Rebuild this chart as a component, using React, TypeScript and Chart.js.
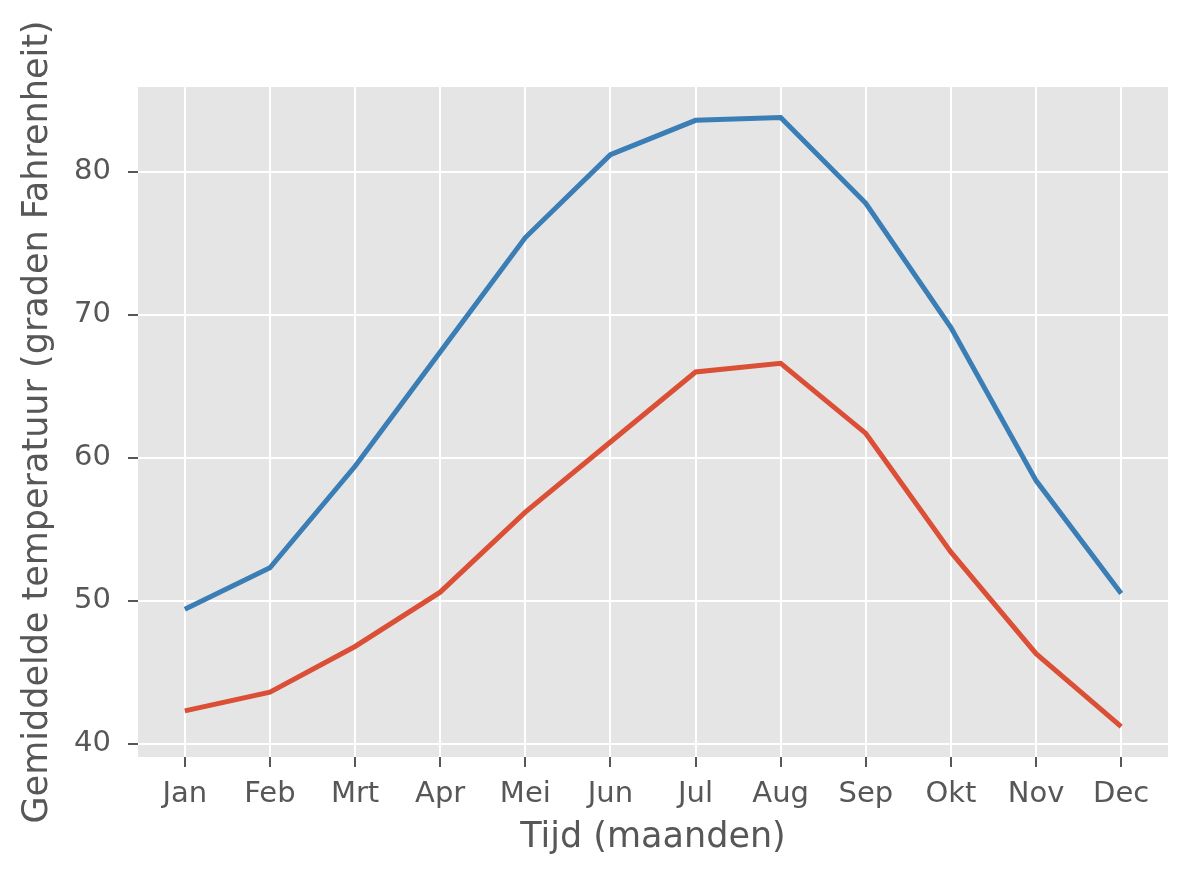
import React, { useEffect, useRef } from "react";
import { Chart, registerables } from "chart.js";

Chart.register(...registerables);

const months = ["Jan", "Feb", "Mrt", "Apr", "Mei", "Jun", "Jul", "Aug", "Sep", "Okt", "Nov", "Dec"];
const maxTemps = [49.4, 52.3, 59.4, 67.4, 75.4, 81.2, 83.6, 83.8, 77.8, 69.1, 58.4, 50.5];
const minTemps = [42.3, 43.6, 46.8, 50.6, 56.2, 61.1, 66.0, 66.6, 61.7, 53.4, 46.3, 41.2];
const yTicks = [40, 50, 60, 70, 80];
const xTitle = "Tijd (maanden)";
const yTitle = "Gemiddelde temperatuur (graden Fahrenheit)";

const FONT = "'DejaVu Sans', sans-serif";
const TEXT = "#575757";

const bgPlugin = {
  id: "bgPlugin",
  beforeDraw(chart: any) {
    const { ctx, chartArea } = chart;
    ctx.save();
    ctx.fillStyle = "#ffffff";
    ctx.fillRect(0, 0, chart.width, chart.height);
    ctx.fillStyle = "#E5E5E5";
    ctx.fillRect(chartArea.left, chartArea.top, chartArea.right - chartArea.left, chartArea.bottom - chartArea.top);
    ctx.restore();
  },
};

export default function App() {
  const ref = useRef<HTMLCanvasElement | null>(null);
  useEffect(() => {
    if (!ref.current) return;
    const allVals = [...maxTemps, ...minTemps];
    const lo = Math.min(...allVals);
    const hi = Math.max(...allVals);
    const m = (hi - lo) * 0.05;
    const xm = (months.length - 1) * 0.05;
    const chart = new Chart(ref.current, {
      type: "line",
      data: {
        datasets: [
          {
            label: "max",
            data: maxTemps.map((v, i) => ({ x: i, y: v })),
            borderColor: "#3A7EB5",
            borderWidth: 5,
            pointRadius: 0,
            tension: 0,
            fill: false,
          },
          {
            label: "min",
            data: minTemps.map((v, i) => ({ x: i, y: v })),
            borderColor: "#DB4F37",
            borderWidth: 5,
            pointRadius: 0,
            tension: 0,
            fill: false,
          },
        ],
      },
      options: {
        animation: false,
        responsive: false,
        maintainAspectRatio: false,
        layout: { padding: { left: 0, top: 87, right: 32, bottom: 0 } },
        plugins: { legend: { display: false }, tooltip: { enabled: false } },
        scales: {
          x: {
            type: "linear",
            min: -xm,
            max: months.length - 1 + xm,
            afterBuildTicks: (axis: any) => {
              axis.ticks = months.map((_, i) => ({ value: i }));
            },
            afterFit: (axis: any) => {
              axis.height = 123;
            },
            grid: { color: "#ffffff", lineWidth: 2, tickColor: TEXT, tickLength: 10, drawOnChartArea: true },
            border: { display: false },
            ticks: {
              autoSkip: false,
              maxRotation: 0,
              padding: 10,
              color: TEXT,
              font: { family: FONT, size: 29 },
              callback: (v: any) => months[Math.round(Number(v))] ?? "",
            },
            title: {
              display: true,
              text: xTitle,
              color: TEXT,
              font: { family: FONT, size: 35 },
              padding: { top: 0, bottom: 21 },
            },
          },
          y: {
            type: "linear",
            min: lo - m,
            max: hi + m,
            afterBuildTicks: (axis: any) => {
              axis.ticks = yTicks.map((v) => ({ value: v }));
            },
            afterFit: (axis: any) => {
              axis.width = 138;
            },
            grid: { color: "#ffffff", lineWidth: 2, tickColor: TEXT, tickLength: 10 },
            border: { display: false },
            ticks: {
              padding: 17,
              color: TEXT,
              font: { family: FONT, size: 29 },
              callback: (v: any) => String(v),
            },
            title: {
              display: true,
              text: yTitle,
              color: TEXT,
              font: { family: FONT, size: 35 },
              padding: { top: 17, bottom: 0 },
            },
          },
        },
      },
      plugins: [bgPlugin],
    } as any);
    return () => chart.destroy();
  }, []);
  return (
    <div style={{ position: "absolute", left: 0, top: 0, width: 1200, height: 880, background: "#fff" }}>
      <canvas ref={ref} width={1200} height={880} style={{ width: 1200, height: 880, display: "block" }} />
    </div>
  );
}
